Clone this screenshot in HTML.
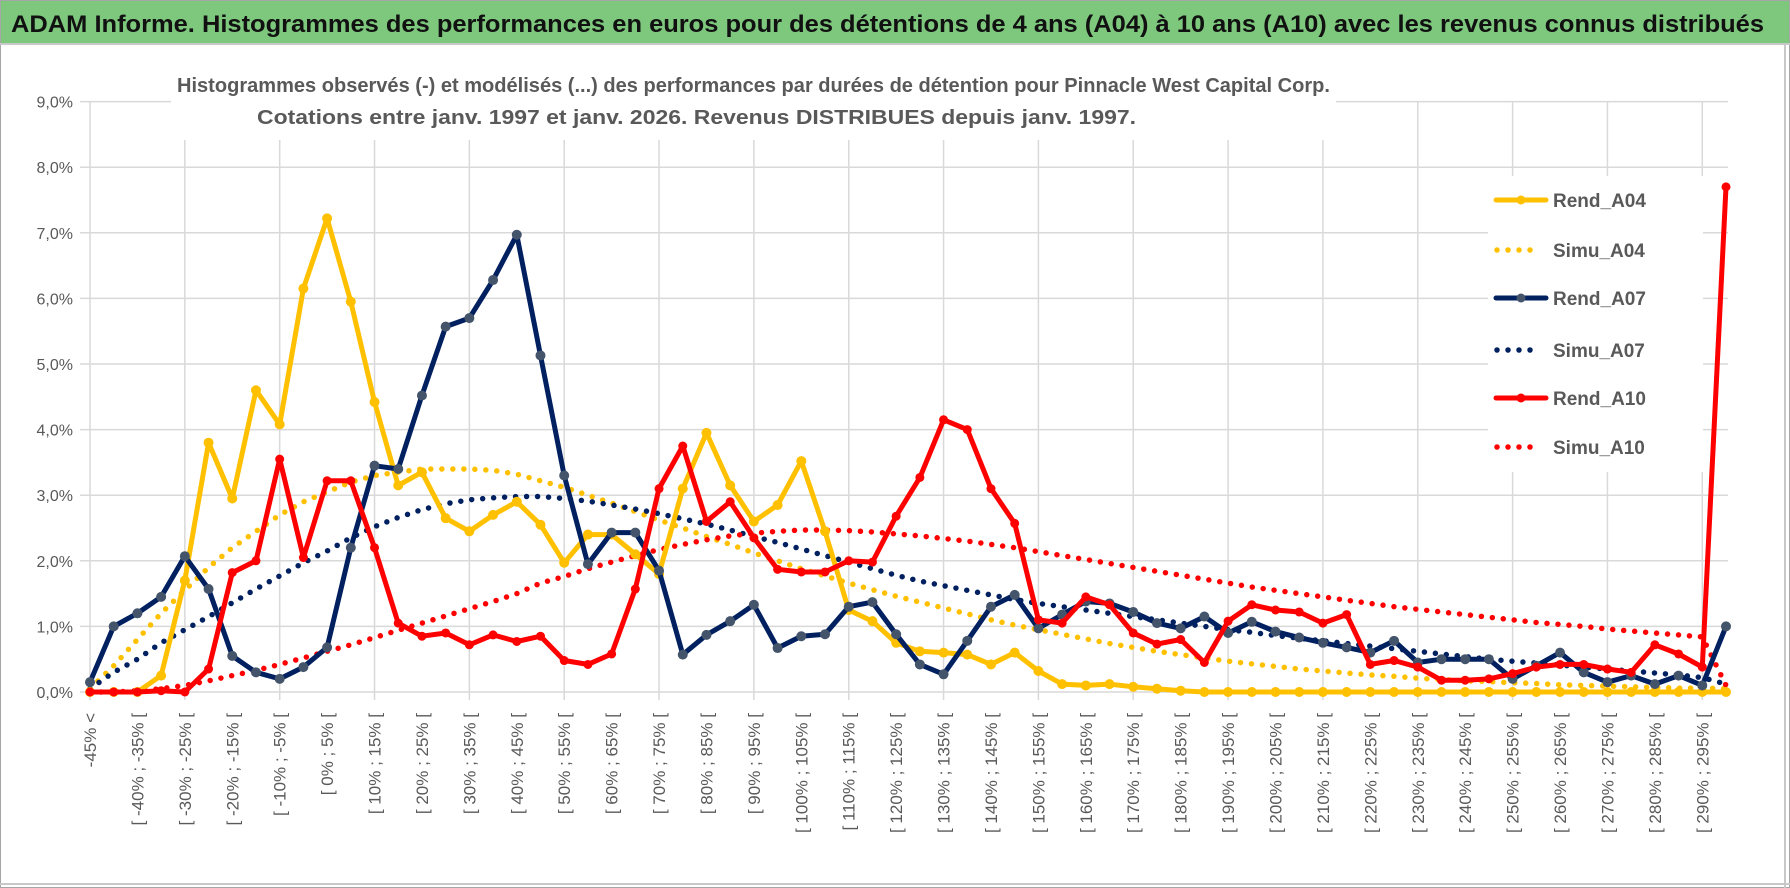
<!DOCTYPE html>
<html><head><meta charset="utf-8"><style>
html,body{margin:0;padding:0;background:#fff;}
svg{display:block;font-family:"Liberation Sans",sans-serif;}
</style></head><body>
<svg id="chart" width="1790" height="888" viewBox="0 0 1790 888">
  <rect x="0.5" y="0.5" width="1789" height="887" fill="#fff" stroke="#a6a6a6"/>
  <rect x="1" y="1" width="1788" height="42" fill="#7ec87e"/>
  <line x1="0" y1="44" x2="1790" y2="44" stroke="#c8c8c8" stroke-width="2"/>
  <text x="11" y="32" font-size="24" font-weight="bold" fill="#111" textLength="1753" lengthAdjust="spacingAndGlyphs">ADAM Informe. Histogrammes des performances en euros pour des détentions de 4 ans (A04) à 10 ans (A10) avec les revenus connus distribués</text>
  <line x1="1785" y1="44" x2="1785" y2="888" stroke="#c8c8c8" stroke-width="2"/>
  <line x1="0" y1="884" x2="1790" y2="884" stroke="#c8c8c8" stroke-width="2"/>
  <g id="grid"></g>
  <g id="yaxis"></g>
  <g id="xaxis"></g>
  <rect x="171" y="68" width="1165" height="72" fill="#fff"/>
  <text x="177" y="92" font-size="20" font-weight="bold" fill="#595959" textLength="1153" lengthAdjust="spacingAndGlyphs">Histogrammes observés (-) et modélisés (...) des performances par durées de détention pour Pinnacle West Capital Corp.</text>
  <text x="257" y="124" font-size="20" font-weight="bold" fill="#595959" textLength="879" lengthAdjust="spacingAndGlyphs">Cotations entre janv. 1997 et janv. 2026. Revenus DISTRIBUES depuis janv. 1997.</text>
  <rect x="1488" y="176" width="215" height="296" fill="#fff"/>
  <g id="series"></g>
  <g id="legend"></g>
</svg>
<script>
const yTicks = [0,1,2,3,4,5,6,7,8,9];
const yTickLabels = ["0,0%","1,0%","2,0%","3,0%","4,0%","5,0%","6,0%","7,0%","8,0%","9,0%"];
const nCats = 70;
const rendA04 = [0,0,0,0.25,1.7,3.8,2.95,4.6,4.08,6.15,7.22,5.95,4.42,3.15,3.35,2.65,2.45,2.7,2.9,2.55,1.97,2.4,2.4,2.1,1.8,3.1,3.95,3.15,2.6,2.85,3.52,2.45,1.25,1.08,0.75,0.62,0.6,0.57,0.42,0.6,0.32,0.12,0.1,0.12,0.08,0.05,0.02,0,0,0,0,0,0,0,0,0,0,0,0,0,0,0,0,0,0,0,0,0,0,0];
const simuA04 = [0.05,0.4,0.8,1.2,1.55,1.9,2.2,2.45,2.7,2.9,3.05,3.2,3.3,3.35,3.4,3.4,3.4,3.38,3.32,3.22,3.12,3.0,2.88,2.75,2.62,2.5,2.37,2.25,2.12,2.0,1.88,1.77,1.66,1.56,1.46,1.37,1.28,1.19,1.1,1.02,0.95,0.88,0.81,0.74,0.68,0.62,0.57,0.52,0.47,0.43,0.39,0.35,0.32,0.29,0.26,0.24,0.21,0.19,0.17,0.16,0.14,0.13,0.11,0.1,0.09,0.08,0.07,0.06,0.06,0.05];
const rendA07 = [0.15,1.0,1.2,1.45,2.07,1.57,0.55,0.3,0.2,0.38,0.68,2.2,3.45,3.4,4.52,5.57,5.7,6.28,6.97,5.13,3.3,1.95,2.43,2.43,1.85,0.57,0.87,1.08,1.33,0.67,0.85,0.88,1.3,1.37,0.88,0.42,0.27,0.78,1.3,1.48,0.97,1.18,1.38,1.35,1.22,1.05,0.97,1.15,0.9,1.07,0.92,0.83,0.75,0.68,0.6,0.78,0.45,0.5,0.5,0.5,0.2,0.4,0.6,0.3,0.15,0.25,0.12,0.25,0.1,1.0];
const simuA07 = [0.05,0.3,0.5,0.75,0.95,1.15,1.36,1.57,1.77,1.97,2.15,2.35,2.52,2.66,2.78,2.87,2.93,2.96,2.98,2.98,2.95,2.91,2.85,2.79,2.72,2.64,2.56,2.47,2.37,2.28,2.18,2.08,1.98,1.88,1.78,1.69,1.62,1.55,1.48,1.41,1.35,1.3,1.25,1.2,1.15,1.1,1.05,1.0,0.95,0.91,0.86,0.82,0.78,0.74,0.7,0.66,0.62,0.58,0.54,0.5,0.47,0.44,0.41,0.38,0.35,0.32,0.29,0.26,0.22,0.12];
const rendA10 = [0,0,0,0.02,0,0.35,1.82,2.0,3.55,2.05,3.22,3.22,2.2,1.05,0.85,0.9,0.72,0.87,0.77,0.85,0.48,0.42,0.58,1.57,3.1,3.75,2.6,2.9,2.35,1.87,1.83,1.83,2.0,1.98,2.68,3.27,4.15,4.0,3.1,2.57,1.1,1.05,1.45,1.33,0.9,0.73,0.8,0.45,1.08,1.33,1.25,1.22,1.05,1.18,0.42,0.48,0.38,0.18,0.18,0.2,0.28,0.38,0.42,0.42,0.35,0.3,0.72,0.58,0.38,7.7];
const simuA10 = [0,0,0.02,0.05,0.1,0.17,0.25,0.33,0.42,0.52,0.62,0.72,0.83,0.94,1.05,1.16,1.27,1.38,1.5,1.66,1.76,1.88,1.98,2.08,2.17,2.25,2.32,2.38,2.42,2.45,2.47,2.47,2.46,2.44,2.41,2.38,2.34,2.3,2.25,2.2,2.14,2.08,2.02,1.96,1.9,1.84,1.78,1.72,1.66,1.6,1.55,1.5,1.45,1.4,1.35,1.3,1.26,1.22,1.18,1.14,1.1,1.06,1.03,1.0,0.96,0.93,0.9,0.87,0.84,0.1];

const NS = "http://www.w3.org/2000/svg";
const X0 = 90, X1 = 1726, Y0 = 692, YPER = 65.6;
function xPos(i){ return X0 + i*(X1-X0)/(nCats-1); }
function yPos(v){ return Y0 - v*YPER; }
function catLabel(i){ if(i===0) return "-45% <"; const a=-45+5*(i-1); return "[ "+a+"% ; "+(a+5)+"% ["; }
function mk(tag, attrs, parent){ const e=document.createElementNS(NS,tag); for(const k in attrs) e.setAttribute(k,attrs[k]); parent.appendChild(e); return e; }

const grid = document.getElementById('grid');
yTicks.forEach(function(t){
  const l = mk('line',{x1:80,x2:1728,y1:yPos(t),y2:yPos(t),stroke:'#d9d9d9','stroke-width':1.5},grid);
  
  
});
for(let i=0;i<nCats;i+=4){
  const l = mk('line',{x1:xPos(i),x2:xPos(i),y1:yPos(9),y2:Y0+8,stroke:'#d9d9d9','stroke-width':1.5},grid);
  
  
}
const yaxis = document.getElementById('yaxis');
yTicks.forEach(function(t,k){
  const tx = mk('text',{x:73,y:yPos(t)+6,'text-anchor':'end','font-size':16,fill:'#595959'},yaxis);
  tx.textContent = yTickLabels[k];
  
  
});
const xaxis = document.getElementById('xaxis');
for(let i=0;i<nCats;i+=2){
  const x=xPos(i)+6, y=713;
  const tx = mk('text',{x:x,y:y,'text-anchor':'end','font-size':17,fill:'#595959',transform:'rotate(-90 '+x+' '+y+')'},xaxis);
  tx.textContent = catLabel(i);
  
  
}
const seriesG = document.getElementById('series');
function pts(arr){ return arr.map(function(v,i){ return xPos(i).toFixed(1)+','+yPos(v).toFixed(1); }).join(' '); }
function dotted(arr,color,name){
  const p = mk('polyline',{points:pts(arr),fill:'none',stroke:color,'stroke-width':5.5,'stroke-linecap':'round','stroke-dasharray':'0 11'},seriesG);
  
  
}
function solid(arr,color,mcolor,name,r){
  const p = mk('polyline',{points:pts(arr),fill:'none',stroke:color,'stroke-width':5,'stroke-linejoin':'round'},seriesG);
  
  
  arr.forEach(function(v,i){
    const c = mk('circle',{cx:xPos(i),cy:yPos(v),r:r,fill:mcolor},seriesG);
    
    
  });
}
dotted(simuA04,'#ffc000','simu-a04-line');
dotted(simuA07,'#002060','simu-a07-line');
dotted(simuA10,'#ff0000','simu-a10-line');
solid(rendA04,'#ffc000','#ffc000','rend-a04-line',5);
solid(rendA07,'#002060','#44546a','rend-a07-line',5);
solid(rendA10,'#ff0000','#ff0000','rend-a10-line',4.5);

const legendNames = ["Rend_A04","Simu_A04","Rend_A07","Simu_A07","Rend_A10","Simu_A10"];
const legendColors = ["#ffc000","#ffc000","#002060","#002060","#ff0000","#ff0000"];
const legendMarker = ["#ffc000",null,"#44546a",null,"#ff0000",null];
const legendY = [200,250,298,350,398,447];
const lg = document.getElementById('legend');
legendNames.forEach(function(n,k){
  const y = legendY[k];
  if(legendMarker[k]){
    const l = mk('line',{x1:1496,x2:1546,y1:y,y2:y,stroke:legendColors[k],'stroke-width':5,'stroke-linecap':'round'},lg);
    
    
    const c = mk('circle',{cx:1521,cy:y,r:4.5,fill:legendMarker[k]},lg);
    
    
  } else {
    const l = mk('line',{x1:1497,x2:1541,y1:y,y2:y,stroke:legendColors[k],'stroke-width':5.5,'stroke-linecap':'round','stroke-dasharray':'0 11'},lg);
    
    
  }
  const t = mk('text',{x:1553,y:y+7,'font-size':19,'font-weight':'bold',fill:'#595959'},lg);
  t.textContent = n;
  
  
});
</script>
</body></html>
